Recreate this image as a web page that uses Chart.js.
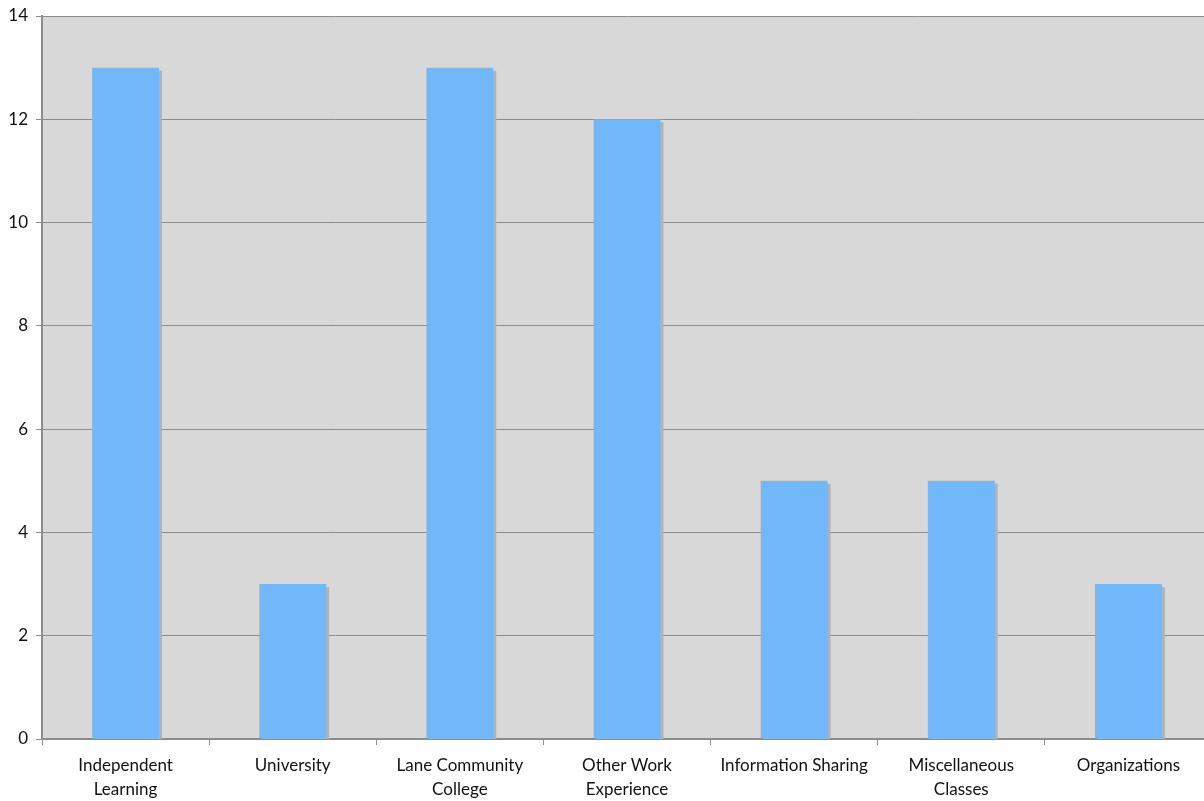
<!DOCTYPE html>
<html>
<head>
<meta charset="utf-8">
<script src="https://cdn.jsdelivr.net/npm/chart.js@4"></script>
<style>
  html, body { margin: 0; padding: 0; background: #fff; overflow: hidden; }
  #wrap { width: 1204px; height: 801px; overflow: hidden; }
</style>
</head>
<body>
<div id="wrap"><canvas id="chart" width="1212" height="801"></canvas></div>
<script>
const categories = [
  ["Independent", "Learning"],
  "University",
  ["Lane Community", "College"],
  ["Other Work", "Experience"],
  "Information Sharing",
  ["Miscellaneous", "Classes"],
  "Organizations",
];
const counts = [13, 3, 13, 12, 5, 5, 3];
const yTicks = [0, 2, 4, 6, 8, 10, 12, 14];

const FONT = { family: "Lato, 'Open Sans', sans-serif", size: 17 };

// plot background + bar drop shadow
const plotBg = {
  id: "plotBg",
  beforeDraw(chart) {
    const { ctx, chartArea: a } = chart;
    ctx.save();
    ctx.fillStyle = "#d8d8d8";
    ctx.fillRect(a.left, a.top, a.right - a.left, a.bottom - a.top);
    ctx.restore();
  },
  beforeDatasetDraw(chart) {
    const ctx = chart.ctx;
    ctx.save();
    ctx.shadowColor = "#b2b2b2";
    ctx.shadowOffsetX = 3;
    ctx.shadowOffsetY = 3;
    ctx.shadowBlur = 0;
  },
  afterDatasetDraw(chart) {
    chart.ctx.restore();
  },
};

new Chart(document.getElementById("chart"), {
  type: "bar",
  data: {
    labels: categories,
    datasets: [{
      data: counts,
      backgroundColor: "#70b8fa",
      borderWidth: 0,
      categoryPercentage: 0.4,
      barPercentage: 1.0,
    }],
  },
  options: {
    responsive: false,
    animation: false,
    layout: { padding: { top: 16, right: 0, bottom: 0, left: 0 } },
    plugins: { legend: { display: false }, tooltip: { enabled: false } },
    scales: {
      x: {
        offset: true,
        grid: { offset: true, drawOnChartArea: false, drawTicks: true, tickLength: 6, color: "#8c8c8c" },
        border: { color: "#8c8c8c", width: 2 },
        ticks: { color: "#111", font: { ...FONT, lineHeight: 1.45 }, padding: 8, maxRotation: 0, autoSkip: false },
        afterFit(s) { s.height = 62; },
      },
      y: {
        min: 0, max: 14,
        afterBuildTicks(s) { s.ticks = yTicks.map(v => ({ value: v })); },
        grid: { color: "#8c8c8c", lineWidth: 1, tickLength: 6 },
        border: { color: "#8c8c8c", width: 2 },
        ticks: { color: "#111", font: { ...FONT, lineHeight: 0.9 }, padding: 8 },
        afterFit(s) { s.width = 42; },
      },
    },
  },
  plugins: [plotBg],
});
</script>
</body>
</html>
